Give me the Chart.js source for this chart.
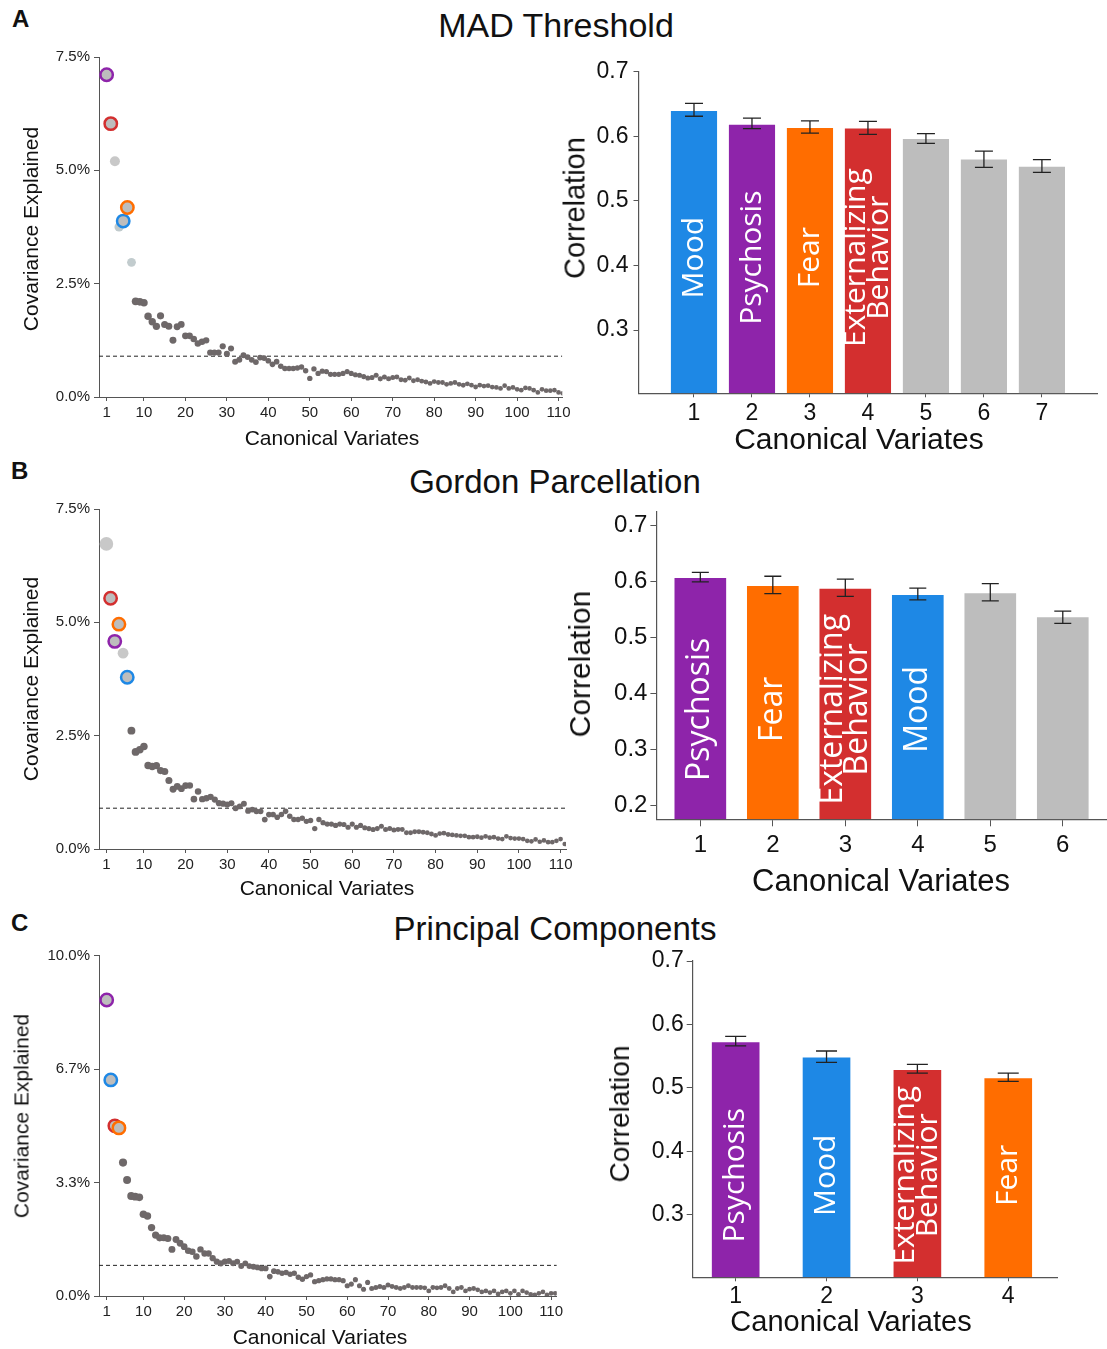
<!DOCTYPE html>
<html><head><meta charset="utf-8">
<script src="https://cdn.jsdelivr.net/npm/chart.js@4.4.1/dist/chart.umd.min.js"></script>
<style>
html,body{margin:0;padding:0;background:#fff;}
body{width:1107px;height:1349px;position:relative;overflow:hidden;font-family:"Liberation Sans",Arial,sans-serif;color:#111;}
canvas{position:absolute;}
.ttl,.ax{position:absolute;transform:translate(-50%,-50%);white-space:nowrap;line-height:1;color:#111;}
.axv{position:absolute;transform:translate(-50%,-50%) rotate(-90deg);white-space:nowrap;line-height:1;color:#111;}
.let{position:absolute;font-weight:bold;font-size:24px;line-height:1;color:#111;}
</style></head><body>
<div class="let" style="left:12px;top:7px">A</div>
<div class="let" style="left:11px;top:459px">B</div>
<div class="let" style="left:11px;top:911px">C</div>
<div class="ttl" style="left:556px;top:25px;font-size:34px">MAD Threshold</div>
<div class="ttl" style="left:555px;top:481px;font-size:33px">Gordon Parcellation</div>
<div class="ttl" style="left:555px;top:928px;font-size:33px">Principal Components</div>

<canvas id="sA" width="571" height="410" style="left:0;top:45px"></canvas>
<canvas id="bA" width="552" height="410" style="left:555px;top:50px"></canvas>
<canvas id="sB" width="580" height="410" style="left:0;top:497px"></canvas>
<canvas id="bB" width="547" height="400" style="left:560px;top:500px"></canvas>
<canvas id="sC" width="580" height="404" style="left:0;top:945px"></canvas>
<canvas id="bC" width="500" height="400" style="left:600px;top:945px"></canvas>

<!-- axis titles -->
<div class="axv" style="left:30px;top:229px;font-size:21px">Covariance Explained</div>
<div class="ax" style="left:332px;top:437px;font-size:21px">Canonical Variates</div>
<div class="axv" style="left:30px;top:679px;font-size:21px">Covariance Explained</div>
<div class="ax" style="left:327px;top:887px;font-size:21px">Canonical Variates</div>
<div class="axv" style="left:21px;top:1116px;font-size:21px">Covariance Explained</div>
<div class="ax" style="left:320px;top:1336px;font-size:21px">Canonical Variates</div>

<div class="axv" style="left:575px;top:208px;font-size:29px">Correlation</div>
<div class="ax" style="left:859px;top:439px;font-size:30px">Canonical Variates</div>
<div class="axv" style="left:580px;top:664px;font-size:30px">Correlation</div>
<div class="ax" style="left:881px;top:880px;font-size:31px">Canonical Variates</div>
<div class="axv" style="left:620px;top:1114px;font-size:28px">Correlation</div>
<div class="ax" style="left:851px;top:1321px;font-size:29px">Canonical Variates</div>

<script>
// ---------------- DATA ----------------
// Covariance explained (%) per canonical variate (1..111)
const covA = [7.11,6.03,5.20,3.75,3.88,4.18,2.97,2.11,2.10,2.08,
  1.78,1.66,1.56,1.79,1.60,1.56,1.25,1.55,1.60,1.35,
  1.35,1.28,1.18,1.22,1.25,0.98,0.98,0.98,1.12,0.95,
  1.07,0.78,0.82,0.92,0.88,0.82,0.77,0.87,0.86,0.80,
  0.72,0.78,0.68,0.63,0.63,0.63,0.64,0.66,0.58,0.41,
  0.62,0.52,0.57,0.56,0.50,0.50,0.50,0.52,0.56,0.52,
  0.49,0.48,0.45,0.42,0.43,0.48,0.40,0.44,0.40,0.43,
  0.44,0.38,0.37,0.42,0.36,0.38,0.35,0.33,0.30,0.34,
  0.32,0.32,0.28,0.30,0.32,0.28,0.26,0.29,0.26,0.22,
  0.26,0.24,0.25,0.22,0.21,0.19,0.25,0.19,0.21,0.17,
  0.15,0.20,0.19,0.15,0.10,0.17,0.14,0.14,0.15,0.10,
  0.08];
const covB = [6.73,5.53,4.58,4.96,4.32,3.79,2.61,2.14,2.19,2.26,
  1.84,1.82,1.84,1.73,1.71,1.51,1.32,1.38,1.33,1.40,
  1.40,1.10,1.27,1.10,1.12,1.15,1.09,1.01,1.00,0.98,
  1.01,0.90,0.94,1.00,0.84,0.87,0.83,0.83,0.65,0.76,
  0.76,0.70,0.76,0.83,0.72,0.65,0.65,0.68,0.61,0.63,
  0.45,0.65,0.58,0.55,0.55,0.52,0.55,0.54,0.48,0.55,
  0.48,0.52,0.47,0.45,0.43,0.45,0.50,0.43,0.45,0.42,
  0.43,0.43,0.36,0.36,0.38,0.38,0.37,0.36,0.33,0.30,
  0.34,0.35,0.32,0.31,0.30,0.29,0.29,0.26,0.26,0.27,
  0.25,0.28,0.25,0.26,0.23,0.22,0.28,0.24,0.23,0.23,
  0.22,0.18,0.17,0.21,0.16,0.19,0.15,0.15,0.18,0.22,
  0.11];
const covC = [8.70,6.35,5.00,4.94,3.92,3.41,2.94,2.92,2.90,2.40,
  2.35,2.01,1.79,1.71,1.71,1.69,1.37,1.66,1.55,1.45,
  1.33,1.30,1.16,1.37,1.25,1.25,1.11,1.01,0.96,1.01,
  1.03,0.96,1.01,0.88,0.96,0.88,0.86,0.84,0.81,0.81,
  0.57,0.73,0.71,0.67,0.69,0.64,0.67,0.55,0.49,0.57,
  0.62,0.42,0.45,0.48,0.50,0.50,0.48,0.48,0.45,0.30,
  0.35,0.48,0.30,0.20,0.40,0.22,0.25,0.28,0.25,0.32,
  0.28,0.25,0.22,0.25,0.30,0.25,0.25,0.25,0.24,0.15,
  0.25,0.24,0.25,0.30,0.22,0.12,0.22,0.25,0.15,0.20,
  0.22,0.18,0.12,0.15,0.10,0.15,0.06,0.12,0.15,0.08,
  0.15,0.05,0.15,0.10,0.05,0.03,0.08,0.12,0.03,0.08,
  0.08];
const thresholdA = 0.9, thresholdB = 0.9, thresholdC = 0.9;  // % (dashed line)

const scatterXTicks = [1,10,20,30,40,50,60,70,80,90,100,110];
const scatterYTicksAB = [0, 2.5, 5, 7.5];
const scatterYLabelsAB = ['0.0%','2.5%','5.0%','7.5%'];
const scatterYTicksC = [0, 10/3, 20/3, 10];
const scatterYLabelsC = ['0.0%','3.3%','6.7%','10.0%'];

// Canonical correlations (bars) with error bounds
const catA = ['1','2','3','4','5','6','7'];
const namesA = ['Mood','Psychosis','Fear','Externalizing\nBehavior','','',''];
const corrA = [0.640,0.619,0.614,0.613,0.597,0.565,0.554];
const corrLoA = [0.631,0.612,0.605,0.603,0.589,0.552,0.544];
const corrHiA = [0.651,0.628,0.624,0.623,0.604,0.577,0.564];

const catB = ['1','2','3','4','5','6'];
const namesB = ['Psychosis','Fear','Externalizing\nBehavior','Mood','',''];
const corrB = [0.607,0.593,0.588,0.577,0.580,0.537];
const corrLoB = [0.599,0.578,0.573,0.567,0.565,0.525];
const corrHiB = [0.616,0.609,0.604,0.588,0.596,0.547];

const catC = ['1','2','3','4'];
const namesC = ['Psychosis','Mood','Externalizing\nBehavior','Fear'];
const corrC = [0.573,0.549,0.529,0.516];
const corrLoC = [0.566,0.540,0.523,0.510];
const corrHiC = [0.581,0.558,0.537,0.523];

const barYTicksA = [0.3,0.4,0.5,0.6,0.7];
const barYTicksB = [0.2,0.3,0.4,0.5,0.6,0.7];
const barYTicksC = [0.3,0.4,0.5,0.6,0.7];

// ---------------- STYLE ----------------
const COL = {Mood:'#1E88E5', Psychosis:'#8E24AA', Fear:'#FF6D00', Externalizing:'#D32F2F', gray:'#BDBDBD'};
const SANS = '"Liberation Sans", Arial, Helvetica, sans-serif';
Chart.defaults.font.family = SANS;
Chart.defaults.color = '#222';
const AXIS = '#555';

function nameColor(n){
  if(!n) return COL.gray;
  return COL[n.split('\n')[0]] || COL.gray;
}

// ---------------- PLUGINS ----------------
const errPlugin = {
  id:'errbars',
  afterDatasetsDraw(chart, args, o){
    if(!o || !o.lo) return;
    const ctx = chart.ctx, y = chart.scales.y, meta = chart.getDatasetMeta(0);
    ctx.save();
    ctx.strokeStyle = '#222'; ctx.lineWidth = 1.3;
    meta.data.forEach((bar,i)=>{
      const yl = y.getPixelForValue(o.lo[i]), yh = y.getPixelForValue(o.hi[i]);
      ctx.beginPath();
      ctx.moveTo(bar.x, yl); ctx.lineTo(bar.x, yh);
      ctx.moveTo(bar.x-o.cap, yl); ctx.lineTo(bar.x+o.cap, yl);
      ctx.moveTo(bar.x-o.cap, yh); ctx.lineTo(bar.x+o.cap, yh);
      ctx.stroke();
    });
    ctx.restore();
  }
};
const labelPlugin = {
  id:'barlabels',
  afterDatasetsDraw(chart, args, o){
    if(!o || !o.names) return;
    const ctx = chart.ctx, y = chart.scales.y, meta = chart.getDatasetMeta(0);
    const yc = y.getPixelForValue(o.center);
    ctx.save();
    ctx.fillStyle = '#fff';
    ctx.font = o.size + 'px "Open Sans", "Noto Sans", sans-serif';
    ctx.textAlign = 'center'; ctx.textBaseline = 'middle';
    meta.data.forEach((bar,i)=>{
      const lines = (o.names[i]||'').split('\n').filter(s=>s.length);
      if(!lines.length) return;
      ctx.save();
      ctx.translate(bar.x, yc);
      ctx.rotate(-Math.PI/2);
      lines.forEach((ln,k)=>ctx.fillText(ln, 0, (k-(lines.length-1)/2)*o.gap));
      ctx.restore();
    });
    ctx.restore();
  }
};

// ---------------- SCATTER ----------------
function makeScatter(id, vals, thr, yTicks, yLabels, L, st){
  const pts = vals.map((v,i)=>({x:i+1, y:v}));
  const radius = i => st.ring[i] ? 6.2 : (st.light[i] ? st.light[i][1] : 2.3 + 2.0*Math.exp(-i/30));
  const fill = i => st.ring[i] ? COL.gray : (st.light[i] ? st.light[i][0] : '#6E6869');
  new Chart(document.getElementById(id), {
    type:'scatter',
    data:{datasets:[
      {type:'line', data:[{x:L.xMin,y:thr},{x:L.xMax,y:thr}], borderColor:'#222', borderWidth:1,
       borderDash:[4,3], pointRadius:0, fill:false, order:2},
      {data:pts, order:1,
       pointRadius: c=>radius(c.dataIndex),
       pointHoverRadius: c=>radius(c.dataIndex),
       backgroundColor: c=>fill(c.dataIndex),
       borderColor: c=>st.ring[c.dataIndex] || 'rgba(0,0,0,0)',
       borderWidth: c=>st.ring[c.dataIndex] ? 2.5 : 0}
    ]},
    options:{
      responsive:false, animation:false, events:[],
      plugins:{legend:{display:false}, tooltip:{enabled:false}},
      layout:{padding:{left:0, top:L.padTop, right:L.padRight, bottom:0}},
      scales:{
        x:{type:'linear', min:L.xMin, max:L.xMax,
          afterBuildTicks:s=>{s.ticks = scatterXTicks.map(v=>({value:v}));},
          afterFit:s=>{s.height=L.xH; s.paddingLeft=0; s.paddingRight=0;},
          grid:{display:true, offset:false, drawOnChartArea:false, drawTicks:true, tickLength:4, color:AXIS},
          border:{display:true, color:AXIS, width:1},
          ticks:{padding:3, autoSkip:false, maxRotation:0, font:{size:15}, color:'#222', callback:v=>String(v)},
          title:{display:false, text:'Canonical Variates'}
        },
        y:{type:'linear', min:0, max:yTicks[yTicks.length-1],
          afterBuildTicks:s=>{s.ticks = yTicks.map(v=>({value:v}));},
          afterFit:s=>{s.width=L.yW; s.paddingTop=0; s.paddingBottom=0;},
          grid:{display:true, offset:false, drawOnChartArea:false, drawTicks:true, tickLength:5, color:AXIS},
          border:{display:true, color:AXIS, width:1},
          ticks:{padding:4, font:{size:15}, color:'#222', callback:(v,i)=>yLabels[i]},
          title:{display:false, text:'Covariance Explained'}
        }
      }
    }
  });
}

// ---------------- BARS ----------------
function makeBars(id, cats, names, vals, lo, hi, yTicks, L){
  new Chart(document.getElementById(id), {
    type:'bar',
    data:{datasets:[{
      data: vals.map((v,i)=>({x:i+1, y:v})),
      backgroundColor: names.map(nameColor),
      borderColor: 'rgba(255,255,255,0.45)', borderWidth:1,
      barThickness: L.barW, base: L.yMin, clip: 0
    }]},
    options:{
      responsive:false, animation:false, events:[],
      plugins:{legend:{display:false}, tooltip:{enabled:false},
        errbars:{lo:lo, hi:hi, cap:L.cap},
        barlabels:{names:names, center:L.labelCenter, size:L.labelSize, gap:L.labelGap}},
      layout:{padding:{left:0, top:L.padTop, right:L.padRight, bottom:0}},
      scales:{
        x:{type:'linear', min:L.xMin, max:L.xMax, offset:false,
          afterBuildTicks:s=>{s.ticks = cats.map((c,i)=>({value:i+1}));},
          afterFit:s=>{s.height=L.xH; s.paddingLeft=0; s.paddingRight=0;},
          grid:{display:true, offset:false, drawOnChartArea:false, drawTicks:true, tickLength:L.xTickLen, color:AXIS},
          border:{display:true, color:AXIS, width:1.2},
          ticks:{padding:L.xTickPad, autoSkip:false, maxRotation:0, font:{size:L.tickSize}, color:'#111',
            callback:(v,i)=>cats[i]},
          title:{display:false, text:'Canonical Variates'}
        },
        y:{type:'linear', min:L.yMin, max:L.yMax,
          afterBuildTicks:s=>{s.ticks = yTicks.map(v=>({value:v}));},
          afterFit:s=>{s.width=L.yW; s.paddingTop=0; s.paddingBottom=0;},
          grid:{display:true, offset:false, drawOnChartArea:false, drawTicks:true, tickLength:L.yTickLen, color:AXIS},
          border:{display:true, color:AXIS, width:1.2},
          ticks:{padding:L.yTickPad, font:{size:L.tickSize}, color:'#111', callback:v=>v.toFixed(1)},
          title:{display:false, text:'Correlation'}
        }
      }
    },
    plugins:[errPlugin, labelPlugin]
  });
}

// ---------------- BUILD ----------------
const ringA = {0:COL.Psychosis, 1:COL.Externalizing, 4:COL.Mood, 5:COL.Fear};
const lightA = {2:['#C8C8C8',5.0], 3:['#C0CACC',4.6], 6:['#C2CCCE',4.4]};
const ringB = {1:COL.Externalizing, 2:COL.Psychosis, 3:COL.Fear, 5:COL.Mood};
const lightB = {0:['#C8C8C8',6.8], 4:['#C8C8C8',5.4]};
const ringC = {0:COL.Psychosis, 1:COL.Mood, 2:COL.Externalizing, 3:COL.Fear};

makeScatter('sA', covA, thresholdA, scatterYTicksAB, scatterYLabelsAB,
  {xMin:-0.84, xMax:110.9, padTop:12, padRight:5, xH:58, yW:99},
  {ring:ringA, light:lightA});
makeScatter('sB', covB, thresholdB, scatterYTicksAB, scatterYLabelsAB,
  {xMin:-0.78, xMax:111.3, padTop:12, padRight:14, xH:58, yW:99},
  {ring:ringB, light:lightB});
makeScatter('sC', covC, thresholdC, scatterYTicksC, scatterYLabelsC,
  {xMin:-0.89, xMax:111.4, padTop:10.7, padRight:23.2, xH:53, yW:99},
  {ring:ringC, light:{}});

makeBars('bA', catA, namesA, corrA, corrLoA, corrHiA, barYTicksA,
  {xMin:0.043, xMax:7.95, yMin:0.202, yMax:0.7, padTop:21.7, padRight:10, xH:66.7, yW:83.5,
   barW:47.5, cap:9, labelCenter:0.412, labelSize:30, labelGap:23, tickSize:23,
   yTickLen:5, yTickPad:5, xTickLen:4, xTickPad:3});
makeBars('bB', catB, namesB, corrB, corrLoB, corrHiB, barYTicksB,
  {xMin:0.394, xMax:6.61, yMin:0.176, yMax:0.724, padTop:11.7, padRight:0, xH:80.7, yW:96.4,
   barW:53, cap:8.5, labelCenter:0.372, labelSize:32, labelGap:25, tickSize:24,
   yTickLen:6, yTickPad:3, xTickLen:7, xTickPad:5});
makeBars('bC', catC, namesC, corrC, corrLoC, corrHiC, barYTicksC,
  {xMin:0.527, xMax:4.54, yMin:0.201, yMax:0.7, padTop:16, padRight:42.7, xH:67.7, yW:92.7,
   barW:49, cap:10.5, labelCenter:0.362, labelSize:30, labelGap:23, tickSize:23,
   yTickLen:6, yTickPad:3, xTickLen:4, xTickPad:2});
</script>
</body></html>
